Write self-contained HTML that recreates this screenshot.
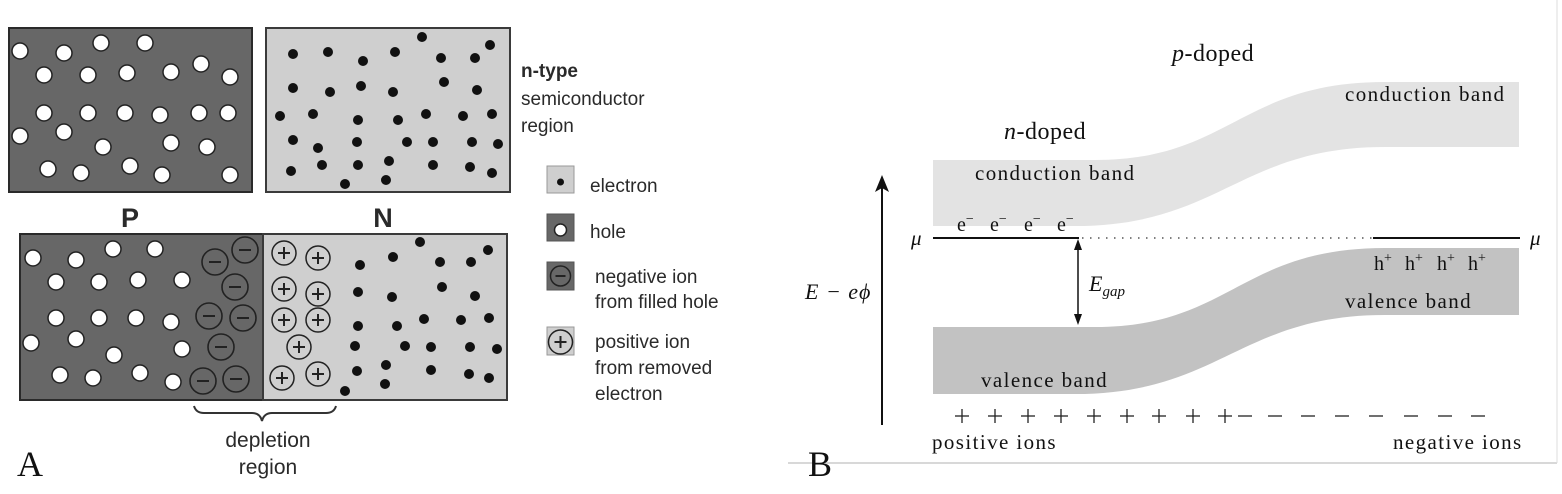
<!DOCTYPE html>
<html><head><meta charset="utf-8"><style>
html,body{margin:0;padding:0;background:#fff;}
svg{display:block}
.a{font-family:"Liberation Sans",Arial,sans-serif;fill:#2a2a2a}
.s{font-family:"Liberation Serif","DejaVu Serif",serif;fill:#111}
.b{font-size:21px;letter-spacing:1.4px}
</style></head><body>
<svg width="1562" height="494" viewBox="0 0 1562 494" xmlns="http://www.w3.org/2000/svg">
<defs>
<g id="h"><circle r="8" fill="#fff" stroke="#222" stroke-width="1.5"/></g>
<g id="e"><circle r="5" fill="#111"/></g>
<g id="n"><circle r="13" fill="none" stroke="#222" stroke-width="1.6"/><line x1="-6" y1="0" x2="6" y2="0" stroke="#222" stroke-width="2"/></g>
<g id="p"><circle r="12" fill="none" stroke="#222" stroke-width="1.5"/><line x1="-6" y1="0" x2="6" y2="0" stroke="#222" stroke-width="2"/><line x1="0" y1="-6" x2="0" y2="6" stroke="#222" stroke-width="2"/></g>
<g id="pl"><line x1="-7" y1="0" x2="7" y2="0" stroke="#222" stroke-width="1.3"/><line x1="0" y1="-7" x2="0" y2="7" stroke="#222" stroke-width="1.3"/></g>
<g id="mi"><line x1="-7" y1="0" x2="7" y2="0" stroke="#222" stroke-width="1.3"/></g>
</defs>
<rect x="9" y="28" width="243" height="164" fill="#676767" stroke="#2a2a2a" stroke-width="2"/>
<rect x="266" y="28" width="244" height="164" fill="#cfcfcf" stroke="#3a3a3a" stroke-width="2"/>
<g>
<use href="#h" x="20" y="51"/><use href="#h" x="64" y="53"/><use href="#h" x="101" y="43"/><use href="#h" x="145" y="43"/>
<use href="#h" x="44" y="75"/><use href="#h" x="88" y="75"/><use href="#h" x="127" y="73"/><use href="#h" x="171" y="72"/><use href="#h" x="201" y="64"/><use href="#h" x="230" y="77"/>
<use href="#h" x="44" y="113"/><use href="#h" x="88" y="113"/><use href="#h" x="125" y="113"/><use href="#h" x="160" y="115"/><use href="#h" x="199" y="113"/><use href="#h" x="228" y="113"/>
<use href="#h" x="20" y="136"/><use href="#h" x="64" y="132"/><use href="#h" x="103" y="147"/><use href="#h" x="171" y="143"/><use href="#h" x="207" y="147"/>
<use href="#h" x="48" y="169"/><use href="#h" x="81" y="173"/><use href="#h" x="130" y="166"/><use href="#h" x="162" y="175"/><use href="#h" x="230" y="175"/>
</g>
<g>
<use href="#e" x="293" y="54"/><use href="#e" x="328" y="52"/><use href="#e" x="363" y="61"/><use href="#e" x="395" y="52"/><use href="#e" x="422" y="37"/><use href="#e" x="441" y="58"/><use href="#e" x="475" y="58"/><use href="#e" x="490" y="45"/>
<use href="#e" x="293" y="88"/><use href="#e" x="330" y="92"/><use href="#e" x="361" y="86"/><use href="#e" x="393" y="92"/><use href="#e" x="444" y="82"/><use href="#e" x="477" y="90"/>
<use href="#e" x="280" y="116"/><use href="#e" x="313" y="114"/><use href="#e" x="358" y="120"/><use href="#e" x="398" y="120"/><use href="#e" x="426" y="114"/><use href="#e" x="463" y="116"/><use href="#e" x="492" y="114"/>
<use href="#e" x="293" y="140"/><use href="#e" x="318" y="148"/><use href="#e" x="357" y="142"/><use href="#e" x="407" y="142"/><use href="#e" x="433" y="142"/><use href="#e" x="472" y="142"/><use href="#e" x="498" y="144"/>
<use href="#e" x="291" y="171"/><use href="#e" x="322" y="165"/><use href="#e" x="358" y="165"/><use href="#e" x="389" y="161"/><use href="#e" x="433" y="165"/><use href="#e" x="470" y="167"/><use href="#e" x="492" y="173"/>
<use href="#e" x="345" y="184"/><use href="#e" x="386" y="180"/>
</g>
<text class="a" x="130" y="227" font-size="27" font-weight="bold" text-anchor="middle">P</text>
<text class="a" x="383" y="227" font-size="27" font-weight="bold" text-anchor="middle">N</text>
<rect x="20" y="234" width="243" height="166" fill="#676767" stroke="#2a2a2a" stroke-width="2"/>
<rect x="263" y="234" width="244" height="166" fill="#cfcfcf" stroke="#3a3a3a" stroke-width="2"/>
<g>
<use href="#h" x="33" y="258"/><use href="#h" x="76" y="260"/><use href="#h" x="113" y="249"/><use href="#h" x="155" y="249"/>
<use href="#h" x="56" y="282"/><use href="#h" x="99" y="282"/><use href="#h" x="138" y="280"/><use href="#h" x="182" y="280"/>
<use href="#h" x="56" y="318"/><use href="#h" x="99" y="318"/><use href="#h" x="136" y="318"/><use href="#h" x="171" y="322"/>
<use href="#h" x="31" y="343"/><use href="#h" x="76" y="339"/><use href="#h" x="114" y="355"/><use href="#h" x="182" y="349"/>
<use href="#h" x="60" y="375"/><use href="#h" x="93" y="378"/><use href="#h" x="140" y="373"/><use href="#h" x="173" y="382"/>
</g>
<g>
<use href="#n" x="215" y="262"/><use href="#n" x="245" y="250"/><use href="#n" x="235" y="287"/><use href="#n" x="209" y="316"/><use href="#n" x="243" y="318"/><use href="#n" x="221" y="347"/><use href="#n" x="203" y="381"/><use href="#n" x="236" y="379"/>
</g>
<g>
<use href="#p" x="284" y="253"/><use href="#p" x="318" y="258"/><use href="#p" x="284" y="289"/><use href="#p" x="318" y="294"/><use href="#p" x="284" y="320"/><use href="#p" x="318" y="320"/><use href="#p" x="299" y="347"/><use href="#p" x="282" y="378"/><use href="#p" x="318" y="374"/>
</g>
<g>
<use href="#e" x="360" y="265"/><use href="#e" x="393" y="257"/><use href="#e" x="420" y="242"/><use href="#e" x="440" y="262"/><use href="#e" x="471" y="262"/><use href="#e" x="488" y="250"/>
<use href="#e" x="358" y="292"/><use href="#e" x="392" y="297"/><use href="#e" x="442" y="287"/><use href="#e" x="475" y="296"/>
<use href="#e" x="358" y="326"/><use href="#e" x="397" y="326"/><use href="#e" x="424" y="319"/><use href="#e" x="461" y="320"/><use href="#e" x="489" y="318"/>
<use href="#e" x="355" y="346"/><use href="#e" x="405" y="346"/><use href="#e" x="431" y="347"/><use href="#e" x="470" y="347"/><use href="#e" x="497" y="349"/>
<use href="#e" x="357" y="371"/><use href="#e" x="386" y="365"/><use href="#e" x="431" y="370"/><use href="#e" x="469" y="374"/><use href="#e" x="489" y="378"/>
<use href="#e" x="345" y="391"/><use href="#e" x="385" y="384"/>
</g>
<path d="M194,406 Q196,413 204,413 L252,413 Q260,413 262,421 Q264,413 272,413 L326,413 Q334,413 336,406" fill="none" stroke="#333" stroke-width="2"/>
<text class="a" x="268" y="447" font-size="21" text-anchor="middle">depletion</text>
<text class="a" x="268" y="474" font-size="21" text-anchor="middle">region</text>
<text class="s" x="17" y="476" font-size="36">A</text>
<text class="a" x="521" y="77" font-size="19" font-weight="bold">n-type</text>
<text class="a" x="521" y="105" font-size="19">semiconductor</text>
<text class="a" x="521" y="132" font-size="19">region</text>
<rect x="547" y="166" width="27" height="27" fill="#cfcfcf" stroke="#999"/>
<circle cx="560.5" cy="182" r="3.5" fill="#111"/>
<text class="a" x="590" y="192" font-size="19">electron</text>
<rect x="547" y="214" width="27" height="27" fill="#676767" stroke="#555"/>
<circle cx="560.5" cy="230" r="6" fill="#fff" stroke="#222" stroke-width="1.5"/>
<text class="a" x="590" y="238" font-size="19">hole</text>
<rect x="547" y="262" width="27" height="28" fill="#676767" stroke="#555"/>
<circle cx="560.5" cy="276" r="10" fill="none" stroke="#222" stroke-width="1.5"/><line x1="555.5" y1="276" x2="565.5" y2="276" stroke="#222" stroke-width="2"/>
<text class="a" x="595" y="283" font-size="19">negative ion</text>
<text class="a" x="595" y="308" font-size="19">from filled hole</text>
<rect x="547" y="327" width="27" height="28" fill="#cfcfcf" stroke="#999"/>
<use href="#p" x="560.5" y="342"/>
<text class="a" x="595" y="348" font-size="19">positive ion</text>
<text class="a" x="595" y="374" font-size="19">from removed</text>
<text class="a" x="595" y="400" font-size="19">electron</text>
<line x1="788" y1="463" x2="1557" y2="463" stroke="#ccc" stroke-width="1.5"/>
<line x1="1557" y1="0" x2="1557" y2="463" stroke="#ddd" stroke-width="1"/>
<path d="M933,160 L1095,160 C1230,160 1240,82 1385,82 L1519,82 L1519,147 L1385,147 C1240,147 1220,226 1075,226 L933,226 Z" fill="#e3e3e3"/>
<path d="M933,327 L1095,327 C1230,327 1240,248 1385,248 L1519,248 L1519,315 L1385,315 C1240,315 1220,394 1075,394 L933,394 Z" fill="#c2c2c2"/>
<line x1="933" y1="238" x2="1079" y2="238" stroke="#111" stroke-width="2"/>
<line x1="1082" y1="238" x2="1372" y2="238" stroke="#333" stroke-width="1.3" stroke-dasharray="1.5,6.5"/>
<line x1="1373" y1="238" x2="1520" y2="238" stroke="#111" stroke-width="2"/>
<text class="s" x="911" y="245" font-size="21" font-style="italic">μ</text>
<text class="s" x="1530" y="245" font-size="21" font-style="italic">μ</text>
<line x1="882" y1="425" x2="882" y2="186" stroke="#111" stroke-width="2"/>
<path d="M875,192 L882,175 L889,192 L882,188 Z" fill="#111"/>
<line x1="1078" y1="244" x2="1078" y2="320" stroke="#111" stroke-width="1.5"/>
<path d="M1074,250 L1078,239 L1082,250 Z" fill="#111"/>
<path d="M1074,314 L1078,325 L1082,314 Z" fill="#111"/>
<text class="s" x="805" y="299" font-size="22" font-style="italic" letter-spacing="1">E − eϕ</text>
<text class="s" x="1089" y="291" font-size="22" font-style="italic">E<tspan font-size="15" dy="5">gap</tspan></text>
<text class="s" x="1004" y="139" font-size="24" letter-spacing="0.5"><tspan font-style="italic">n</tspan>-doped</text>
<text class="s" x="1172" y="61" font-size="24" letter-spacing="0.5"><tspan font-style="italic">p</tspan>-doped</text>
<text class="s b" x="975" y="180">conduction band</text>
<text class="s b" x="1345" y="101">conduction band</text>
<g class="s" font-size="20">
<text x="957" y="231">e<tspan dy="-8" font-size="14">−</tspan></text>
<text x="990" y="231">e<tspan dy="-8" font-size="14">−</tspan></text>
<text x="1024" y="231">e<tspan dy="-8" font-size="14">−</tspan></text>
<text x="1057" y="231">e<tspan dy="-8" font-size="14">−</tspan></text>
<text x="1374" y="270">h<tspan dy="-8" font-size="14">+</tspan></text>
<text x="1405" y="270">h<tspan dy="-8" font-size="14">+</tspan></text>
<text x="1437" y="270">h<tspan dy="-8" font-size="14">+</tspan></text>
<text x="1468" y="270">h<tspan dy="-8" font-size="14">+</tspan></text>
</g>
<text class="s b" x="1345" y="308">valence band</text>
<text class="s b" x="981" y="387">valence band</text>
<g>
<use href="#pl" x="962" y="416"/><use href="#pl" x="995" y="416"/><use href="#pl" x="1028" y="416"/><use href="#pl" x="1061" y="416"/><use href="#pl" x="1094" y="416"/><use href="#pl" x="1127" y="416"/><use href="#pl" x="1159" y="416"/><use href="#pl" x="1193" y="416"/><use href="#pl" x="1225" y="416"/>
<use href="#mi" x="1245" y="416"/><use href="#mi" x="1275" y="416"/><use href="#mi" x="1308" y="416"/><use href="#mi" x="1342" y="416"/><use href="#mi" x="1376" y="416"/><use href="#mi" x="1411" y="416"/><use href="#mi" x="1445" y="416"/><use href="#mi" x="1478" y="416"/>
</g>
<text class="s b" x="932" y="449">positive ions</text>
<text class="s b" x="1393" y="449">negative ions</text>
<text class="s" x="808" y="476" font-size="36">B</text>
</svg>
</body></html>
